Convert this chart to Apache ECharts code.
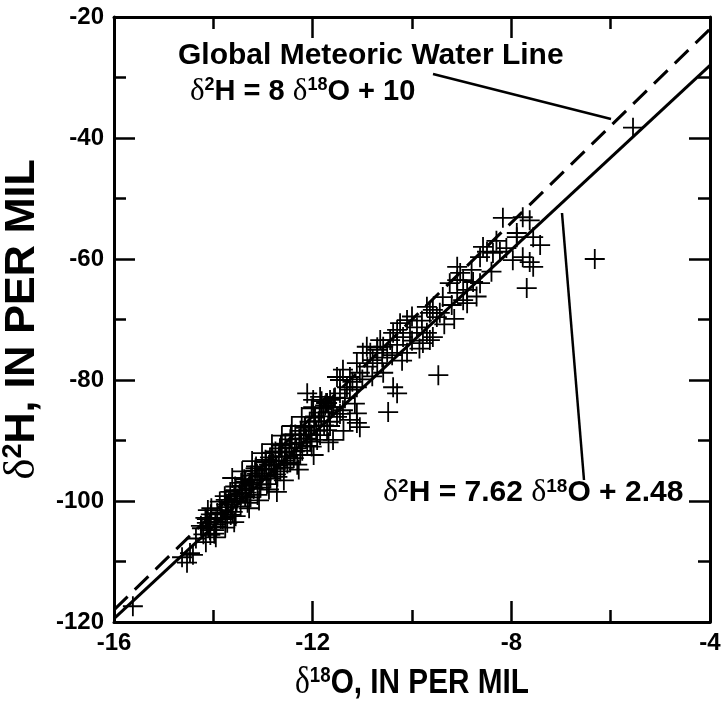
<!DOCTYPE html>
<html>
<head>
<meta charset="utf-8">
<script src="https://cdn.jsdelivr.net/npm/echarts@6/dist/echarts.min.js"></script>
<style>
  html, body { margin: 0; padding: 0; background: #fff; }
  #chart { width: 722px; height: 704px; }
</style>
</head>
<body>
<div id="chart"></div>
<script>
// Stable isotope samples: delta 18O and delta 2H, per mil
const d18O = [
  -15.62, -14.63, -14.47, -14.53, -14.41, -14.10, -13.72, -14.07, -14.13, -13.76,
  -14.20, -13.95, -13.85, -14.35, -14.25, -14.15, -13.98,
  // main cluster
  -14.23, -14.16,
  -14.13, -14.06, -14.11,
  -13.96, -14.04, -13.98,
  -13.92, -13.87, -13.94,
  -13.83, -13.77, -13.81, -13.74,
  -13.72, -13.66, -13.69, -13.75,
  -13.58, -13.63, -13.56, -13.61,
  -13.47, -13.53, -13.44, -13.51, -13.55,
  -13.41, -13.36, -13.43, -13.38,
  -13.27, -13.33, -13.24, -13.31, -13.28,
  -13.22, -13.16, -13.19, -13.24,
  -13.12, -13.06, -13.14, -13.08, -13.11,
  -12.97, -13.03, -12.94, -13.01,
  -12.88, -12.93, -12.86, -12.92,
  -12.83, -12.77, -12.81, -12.74, -12.79,
  -12.68, -12.73, -12.66, -12.71,
  -12.62, -12.56, -12.64, -12.58,
  -12.47, -12.53, -12.45, -12.51, -12.55,
  -12.42, -12.36, -12.44, -12.38,
  -12.27, -12.33, -12.24, -12.31,
  -12.18, -12.23, -12.16, -12.21,
  -12.08, -12.13, -12.06, -12.11,
  -11.97, -12.03, -11.96, -12.02,
  -11.88, -11.93, -11.86,
  -11.83, -11.77, -11.79,
  -11.68, -11.73, -11.66,
  -11.62, -11.57,
  -14.05, -13.95, -13.85, -13.75, -13.65, -13.55, -13.45, -13.35, -13.25, -13.15,
  -13.05, -12.95, -12.85, -12.75, -12.65, -12.55, -12.45, -12.35, -12.25, -12.15,
  -12.05, -11.95, -11.85, -11.75, -11.65, -11.55, -11.45, -11.35, -11.25, -11.15,
  -13.62, -13.42, -13.22, -13.02, -12.82, -12.62, -12.42, -12.22, -12.02, -11.82,
  -13.58, -13.28, -13.08, -12.88, -12.58, -12.28, -11.98, -11.68, -11.38,
  -12.72, -11.71, -11.59, -11.91, -11.11,
  // middle range
  -11.11, -11.05, -11.51, -10.38, -11.65, -11.99, -12.11, -11.45,
  -11.39, -11.11, -11.25, -11.05, -11.51,
  -10.24, -10.10, -10.30, -10.18, -10.04, -10.38,
  -9.70, -9.64, -9.58, -9.78,
  -10.64, -10.58, -10.70, -10.50, -10.91, -10.99, -10.79, -10.10, -10.58,
  -11.39, -11.25, -11.45, -11.31, -11.85, -11.71, -11.59, -11.99,
  -11.11, -10.30, -10.48, -9.47,
  -10.44, -10.84, -10.70,
  -11.20, -11.00, -10.90, -10.80, -10.70, -10.60, -10.40, -10.30, -10.20, -10.00,
  -9.90, -9.80, -10.00, -9.85, -9.35, -9.20, -9.15,
  -9.70, -9.58, -9.50, -9.44, -9.64, -9.38,
  -8.97, -8.89, -9.24, -8.97, -8.89, -9.09,
  -9.09, -9.03, -9.09, -8.77, -8.63, -8.80, -8.70, -8.40,
  // upper range
  -8.49, -8.37, -8.23, -8.57, -8.63, -8.17, -8.10, -8.30,
  -7.89, -7.56, -7.42, -7.89, -7.77, -7.63,
  -7.77, -7.63, -7.56, -7.97, -7.69,
  -6.32, -5.55
];
const d2H = [
  -117.4, -109.3, -108.6, -110.2, -108.9, -104.3, -103.6, -104.8, -103.6, -104.4,
  -105.5, -106.0, -103.0, -106.2, -104.1, -106.8, -105.4,
  -104.5, -102.8, -103.0, -105.6, -101.5, -103.9, -101.2, -104.8, -102.0, -100.1, -104.3,
  -101.5, -99.2, -103.0, -100.6, -101.0, -98.5, -100.2, -102.8, -99.0, -100.5, -97.6, -101.8,
  -98.8, -100.0, -97.0, -99.6, -102.5, -97.5, -99.2, -98.2, -96.4,
  -97.0, -98.6, -95.8, -100.3, -97.9, -96.6, -95.0, -98.0, -97.2,
  -95.5, -97.3, -94.3, -96.0, -99.0, -94.8, -96.5, -93.6, -95.4,
  -94.0, -95.8, -92.8, -97.2, -93.4, -94.7, -92.0, -95.6, -93.9,
  -92.6, -94.1, -91.3, -96.0, -92.0, -93.3, -90.8, -94.5,
  -91.2, -92.7, -89.8, -93.8, -91.9, -90.6, -91.8, -89.0, -92.9,
  -89.7, -91.3, -88.4, -94.0, -89.1, -90.4, -87.6, -91.7,
  -88.3, -89.7, -86.9, -90.9, -87.6, -89.0, -86.2, -91.0,
  -86.8, -88.4, -85.4, -86.0, -87.5, -84.6, -85.3, -83.8, -86.9, -84.5, -83.0,
  -102.2, -103.4, -101.9, -99.8, -102.3, -98.2, -100.9, -96.8, -99.4, -94.6,
  -97.8, -93.2, -96.3, -91.8, -95.1, -90.5, -93.6, -89.0, -92.4, -87.9,
  -90.2, -86.0, -89.1, -84.2, -87.6, -82.9, -85.6, -83.0, -81.6, -83.9,
  -96.2, -95.1, -93.4, -92.1, -90.6, -89.2, -87.6, -86.1, -84.7, -83.5,
  -103.5, -101.2, -99.9, -98.1, -96.6, -94.8, -92.4, -90.3, -88.4,
  -98.5, -88.3, -89.9, -89.9, -87.1,
  -77.2, -78.8, -79.5, -81.2, -83.3, -83.3, -82.2, -82.2,
  -85.0, -85.5, -86.6, -87.8, -86.1,
  -70.6, -70.1, -71.7, -72.9, -72.2, -72.2,
  -72.2, -73.4, -72.9, -73.9,
  -73.4, -74.5, -75.0, -75.5, -74.5, -75.5, -76.7, -75.5, -78.8,
  -78.3, -79.5, -80.0, -81.2, -82.8, -83.8, -84.5, -84.5,
  -81.2, -82.2, -85.3, -79.2,
  -73.4, -75.5, -74.6,
  -80.3, -79.9, -77.8, -79.4, -77.2, -76.3, -75.9, -74.2, -76.8, -73.5,
  -71.3, -70.2, -69.5, -74.8, -70.8, -67.6, -69.9,
  -67.9, -68.4, -69.6, -68.9, -68.9, -66.3,
  -66.8, -67.3, -64.0, -63.5, -65.1, -65.6,
  -61.3, -62.3, -63.5, -63.8, -64.0, -61.8, -66.2, -62.1,
  -58.8, -59.0, -58.8, -58.0, -59.7, -53.2, -58.2, -57.0,
  -56.4, -56.4, -57.7, -55.7, -53.1, -53.6,
  -59.7, -60.5, -61.3, -60.2, -64.8,
  -60.0, -38.3
];

// Water lines: [slope, intercept]
const gmwl = [8, 10];
const localLine = [7.62, 2.48];
const xRange = [-16, -4];

const xTicks = { min: -16, max: -4, interval: 4 };
const yTicks = { min: -120, max: -20, interval: 20 };

const xTitle = '{d|δ}{s|18}{b|O, IN PER MIL}';
const yTitle = '{d|δ}{s|2}{b|H, IN PER MIL}';

const points = d18O.map((x, i) => [x, d2H[i]]);
const lineData = (c) => xRange.map(x => [x, +(c[0] * x + c[1]).toFixed(3)]);

const BOLD = '"Liberation Sans", Arial, Helvetica, sans-serif';
const SERIF = '"Liberation Serif", "Times New Roman", serif';

function richSet(size) {
  return {
    d: { fontFamily: SERIF, fontSize: size + 2, fontWeight: 'normal', color: '#000' },
    s: { fontFamily: BOLD, fontSize: Math.round(size * 0.62), fontWeight: 'bold', color: '#000', verticalAlign: 'top', lineHeight: Math.round(size * 1.0) },
    b: { fontFamily: BOLD, fontSize: size, fontWeight: 'bold', color: '#000' }
  };
}

const axisLine = { show: true, onZero: false, lineStyle: { color: '#000', width: 3 } };
const tick = { show: true, inside: true, length: 21, lineStyle: { color: '#000', width: 2.5 } };
const minor = { show: true, splitNumber: 2, length: 12, lineStyle: { color: '#000', width: 2.5 } };
const tickLabel = { color: '#000', fontFamily: BOLD, fontWeight: 'bold', fontSize: 24 };

const plusPath = 'path://M0,9.1H20V10.9H0Z M9.1,0H10.9V20H9.1Z';

const chart = echarts.init(document.getElementById('chart'), null, { renderer: 'canvas' });
chart.setOption({
  animation: false,
  backgroundColor: '#fff',
  grid: { left: 114, right: 12, top: 17, bottom: 82, containLabel: false, outerBoundsMode: 'none' },
  xAxis: [
    {
      type: 'value', position: 'bottom', ...xTicks,
      axisLine, axisTick: tick, minorTick: minor,
      splitLine: { show: false }, minorSplitLine: { show: false },
      axisLabel: { ...tickLabel, margin: 9 }
    },
    {
      type: 'value', position: 'top', ...xTicks,
      axisLine, axisTick: tick, minorTick: minor,
      splitLine: { show: false }, axisLabel: { show: false }
    }
  ],
  yAxis: [
    {
      type: 'value', position: 'left', ...yTicks,
      axisLine, axisTick: tick, minorTick: minor,
      splitLine: { show: false }, minorSplitLine: { show: false },
      axisLabel: { ...tickLabel, margin: 10 },
      name: yTitle,
      nameLocation: 'middle', nameGap: 44, nameRotate: 90,
      nameTextStyle: { rich: richSet(43) }
    },
    {
      type: 'value', position: 'right', ...yTicks,
      axisLine, axisTick: tick, minorTick: minor,
      splitLine: { show: false }, axisLabel: { show: false }
    }
  ],
  series: [
    {
      type: 'line', data: lineData(gmwl), symbol: 'none', silent: true,
      lineStyle: { color: '#000', width: 3, type: [19, 10] }, z: 3
    },
    {
      type: 'line', data: lineData(localLine), symbol: 'none', silent: true,
      lineStyle: { color: '#000', width: 3 }, z: 3
    },
    {
      type: 'scatter', data: points, symbol: plusPath, symbolSize: 20,
      itemStyle: { color: '#000', opacity: 1 }, z: 4
    }
  ],
  graphic: [
    {
      // x-axis title, set in a condensed bold face
      type: 'text', x: 412, y: 683, scaleX: 0.85,
      style: { text: xTitle, rich: richSet(35), align: 'center', verticalAlign: 'middle' }
    },
    {
      type: 'text', left: 178, top: 41,
      style: { text: 'Global Meteoric Water Line', font: 'bold 30px ' + BOLD, fill: '#000' }
    },
    {
      type: 'text', left: 190, top: 76,
      style: { text: '{d|δ}{s|2}{b|H = 8 }{d|δ}{s|18}{b|O + 10}', rich: richSet(29) }
    },
    {
      type: 'text', left: 383, top: 477,
      style: { text: '{d|δ}{s|2}{b|H = 7.62 }{d|δ}{s|18}{b|O + 2.48}', rich: richSet(30) }
    },
    {
      type: 'line', shape: { x1: 433, y1: 74, x2: 611, y2: 119 },
      style: { stroke: '#000', lineWidth: 2.5 }
    },
    {
      type: 'line', shape: { x1: 562, y1: 213, x2: 584, y2: 480 },
      style: { stroke: '#000', lineWidth: 2.5 }
    }
  ]
});
</script>
</body>
</html>
